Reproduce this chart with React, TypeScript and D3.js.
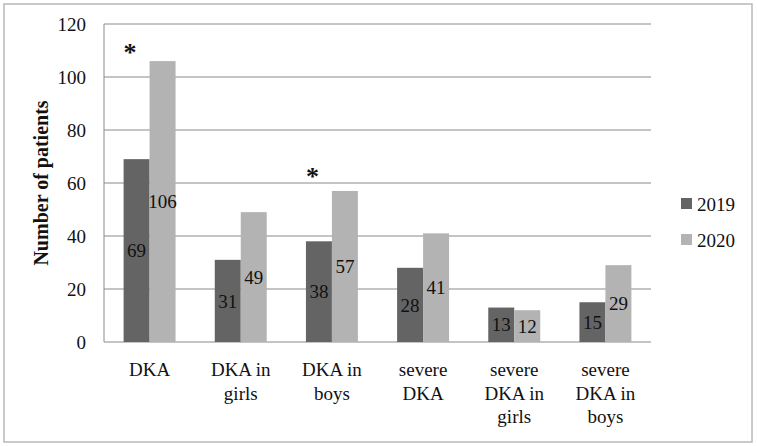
import * as d3 from "d3";

const categories = [
  ["DKA"],
  ["DKA in", "girls"],
  ["DKA in", "boys"],
  ["severe", "DKA"],
  ["severe", "DKA in", "girls"],
  ["severe", "DKA in", "boys"],
];
const series = ["2019", "2020"];
const values2019 = [69, 31, 38, 28, 13, 15];
const values2020 = [106, 49, 57, 41, 12, 29];
const yTicks = [0, 20, 40, 60, 80, 100, 120];
// significant differences, marked with an asterisk over the 2019 bar
const starred = [0, 2];
const starValue = [113, 66];

const colors = ["#646464", "#b3b3b3"];
const font = "'Liberation Serif', 'Times New Roman', serif";

export default function App() {
  const width = 757;
  const height = 446;
  const margin = { top: 24, right: 106, bottom: 104, left: 104 };

  const x = d3
    .scaleBand()
    .domain(categories.map((_, i) => String(i)))
    .range([margin.left, width - margin.right])
    .paddingInner(0.43)
    .paddingOuter(0.215);

  const xs = d3.scaleBand().domain(series).range([0, x.bandwidth()]);

  const y = d3
    .scaleLinear()
    .domain([0, 120])
    .range([height - margin.bottom, margin.top]);

  const data = [values2019, values2020];

  return (
    <svg
      width={width}
      height={height}
      style={{ position: "fixed", left: 0, top: 0, background: "#fff" }}
      fontFamily={font}
    >
      <rect x={4} y={4} width={748} height={438} fill="#fff" stroke="#b8b8b8" strokeWidth={1.5} />

      {/* gridlines */}
      {yTicks.map((t) => (
        <line
          key={t}
          x1={margin.left}
          x2={width - margin.right}
          y1={y(t)}
          y2={y(t)}
          stroke="#8a8a8a"
          strokeWidth={1}
        />
      ))}
      <line x1={margin.left} x2={margin.left} y1={y(120)} y2={y(0)} stroke="#8a8a8a" />

      {/* tick labels */}
      {yTicks.map((t) => (
        <text key={t} x={86} y={y(t)} dy="0.35em" textAnchor="end" fontSize={19} fill="#111">
          {t}
        </text>
      ))}

      {/* bars */}
      {data.map((vals, s) =>
        vals.map((v, i) => {
          const bx = x(String(i))! + xs(series[s])!;
          return (
            <g key={`${s}-${i}`}>
              <rect x={bx} y={y(v)} width={xs.bandwidth()} height={y(0) - y(v)} fill={colors[s]} />
              <text
                x={bx + xs.bandwidth() / 2}
                y={(y(v) + y(0)) / 2}
                dy="0.35em"
                textAnchor="middle"
                fontSize={19}
                fill="#111"
              >
                {v}
              </text>
            </g>
          );
        })
      )}

      {/* asterisks */}
      {starred.map((i, k) => (
        <text
          key={i}
          x={x(String(i))! + xs.bandwidth() * 0.25}
          y={y(starValue[k])}
          dy="0.7em"
          textAnchor="middle"
          fontSize={26}
          fontWeight="bold"
          fill="#111"
        >
          *
        </text>
      ))}

      {/* category labels */}
      {categories.map((lines, i) => (
        <text
          key={i}
          x={x(String(i))! + x.bandwidth() / 2}
          y={y(0) + 34}
          textAnchor="middle"
          fontSize={19}
          fill="#111"
        >
          {lines.map((l, j) => (
            <tspan key={j} x={x(String(i))! + x.bandwidth() / 2} dy={j === 0 ? 0 : 23.5}>
              {l}
            </tspan>
          ))}
        </text>
      ))}

      {/* y axis title */}
      <text
        transform={`translate(48,${(y(0) + y(120)) / 2}) rotate(-90)`}
        textAnchor="middle"
        fontSize={20}
        fontWeight="bold"
        fill="#111"
      >
        Number of patients
      </text>

      {/* legend */}
      {series.map((s, i) => (
        <g key={s} transform={`translate(681,${204 + i * 36})`}>
          <rect x={0} y={-6} width={11} height={11} fill={colors[i]} />
          <text x={16} y={0} dy="0.35em" fontSize={19} fill="#111">
            {s}
          </text>
        </g>
      ))}
    </svg>
  );
}
